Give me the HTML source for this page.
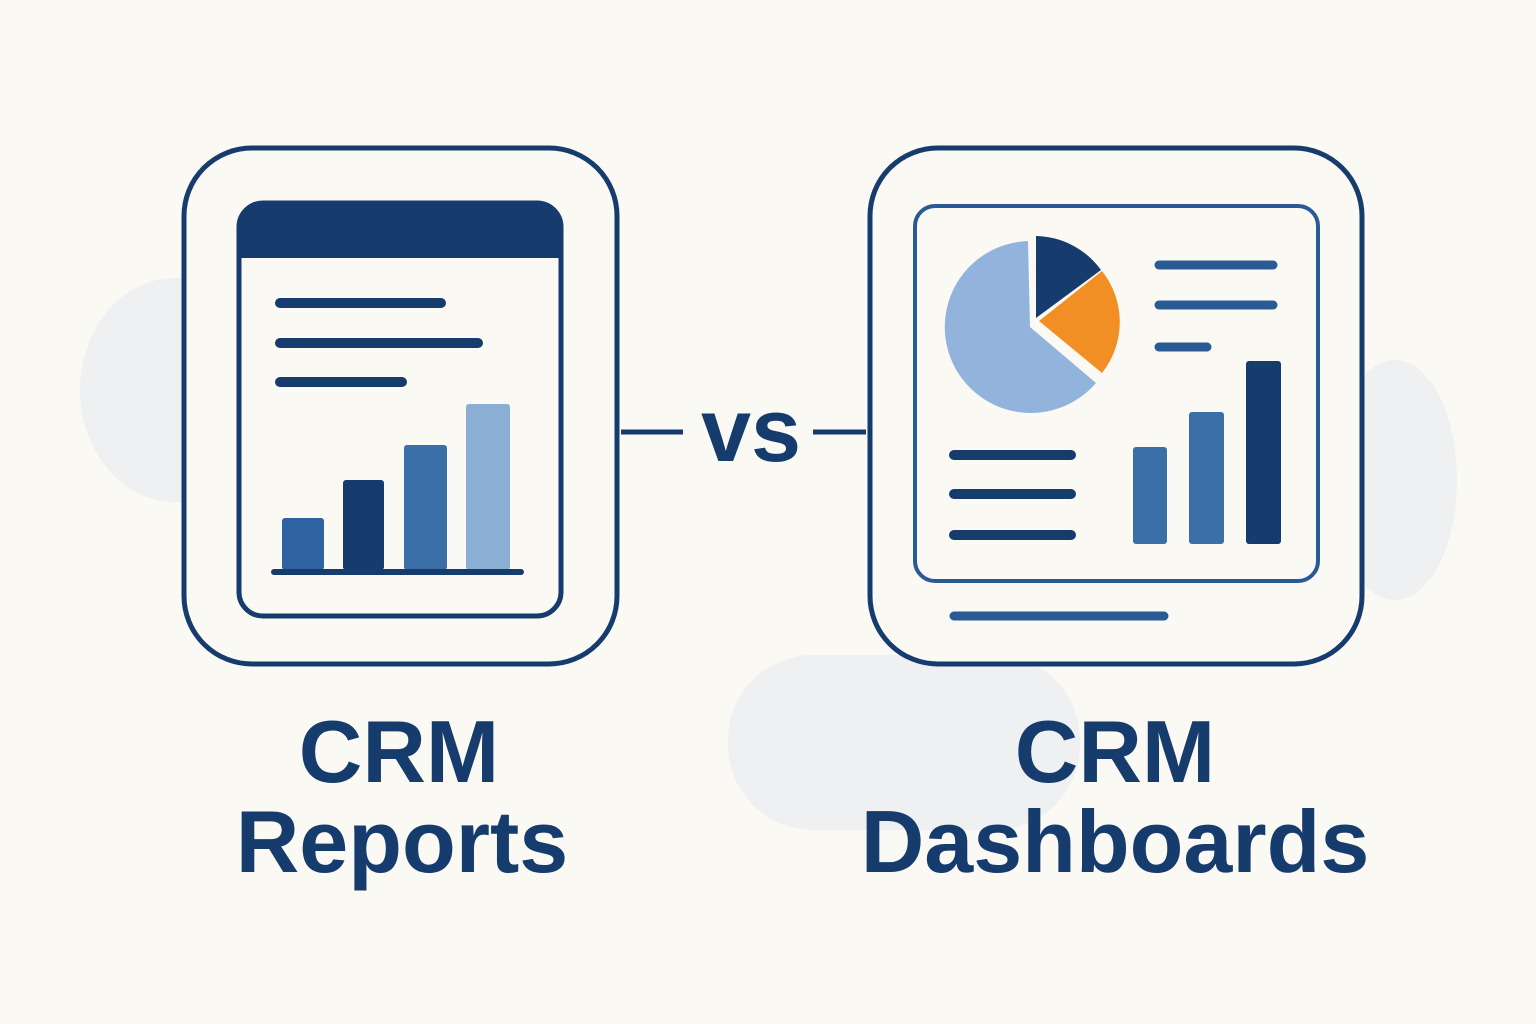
<!DOCTYPE html>
<html><head><meta charset="utf-8"><style>
html,body{margin:0;padding:0;background:#faf9f4;}
svg{display:block;}
text{font-family:"Liberation Sans",sans-serif;font-weight:bold;fill:#163c6e;}
</style></head><body>
<svg width="1536" height="1024" viewBox="0 0 1536 1024">
<rect width="1536" height="1024" fill="#faf9f4"/>
<ellipse cx="175" cy="390" rx="95" ry="112" fill="#eef0f1"/>
<ellipse cx="1395" cy="480" rx="62" ry="120" fill="#eef0f1"/>
<rect x="728" y="655" width="352" height="175" rx="85" fill="#eef0f1"/>
<g fill="none" stroke="#163c6e">
<rect x="184" y="148" width="433" height="516" rx="68" stroke-width="5" fill="#faf9f4"/>
<rect x="870" y="148" width="492" height="516" rx="68" stroke-width="5" fill="#faf9f4"/>
<rect x="239" y="203" width="322" height="413" rx="24" stroke-width="5"/>
<rect x="915" y="206" width="403" height="375" rx="20" stroke-width="4" stroke="#2a5a96"/>
<line x1="621" y1="432" x2="683" y2="432" stroke-width="5"/>
<line x1="813" y1="432" x2="866" y2="432" stroke-width="5"/>
</g>
<path d="M237,226 a24,24 0 0 1 24,-24 h278 a24,24 0 0 1 24,24 v32 h-326z" fill="#163c6e"/>
<g stroke="#163c6e" stroke-width="10" stroke-linecap="round">
<line x1="280" y1="303" x2="441" y2="303"/>
<line x1="280" y1="343" x2="478" y2="343"/>
<line x1="280" y1="382" x2="402" y2="382"/>
<line x1="954" y1="455" x2="1071" y2="455"/>
<line x1="954" y1="494" x2="1071" y2="494"/>
<line x1="954" y1="535" x2="1071" y2="535"/>
</g>
<g stroke="#2a5a96" stroke-width="9" stroke-linecap="round">
<line x1="1159" y1="265" x2="1273" y2="265"/>
<line x1="1159" y1="305" x2="1273" y2="305"/>
<line x1="1159" y1="347" x2="1207" y2="347"/>
<line x1="954" y1="616" x2="1164" y2="616"/>
</g>
<rect x="282" y="518" width="42" height="52" rx="3" fill="#2f62a0"/>
<rect x="343" y="480" width="41" height="90" rx="3" fill="#163c6e"/>
<rect x="404" y="445" width="43" height="125" rx="3" fill="#3a6fa8"/>
<rect x="466" y="404" width="44" height="166" rx="3" fill="#8aaed4"/>
<rect x="271" y="569" width="253" height="6" rx="3" fill="#163c6e"/>
<rect x="1133" y="447" width="34" height="97" rx="3" fill="#3a6fa8"/>
<rect x="1189" y="412" width="35" height="132" rx="3" fill="#3a6fa8"/>
<rect x="1246" y="361" width="35" height="183" rx="3" fill="#163c6e"/>
<path d="M1030,327 L1028,241 A86,86 0 1,0 1096,383 Z" fill="#92b3dc"/>
<path d="M1036,318 L1036,236 A82,82 0 0,1 1101,270 Z" fill="#163c6e"/>
<path d="M1039,321 L1102,271 A82,82 0 0,1 1102,373 Z" fill="#f28f24"/>
<text x="751" y="461" font-size="90" text-anchor="middle">vs</text>
<text x="399" y="782" font-size="88" text-anchor="middle">CRM</text>
<text x="402" y="872" font-size="88" text-anchor="middle">Reports</text>
<text x="1115" y="782" font-size="88" text-anchor="middle">CRM</text>
<text x="1115" y="872" font-size="88" text-anchor="middle">Dashboards</text>
</svg>
</body></html>
